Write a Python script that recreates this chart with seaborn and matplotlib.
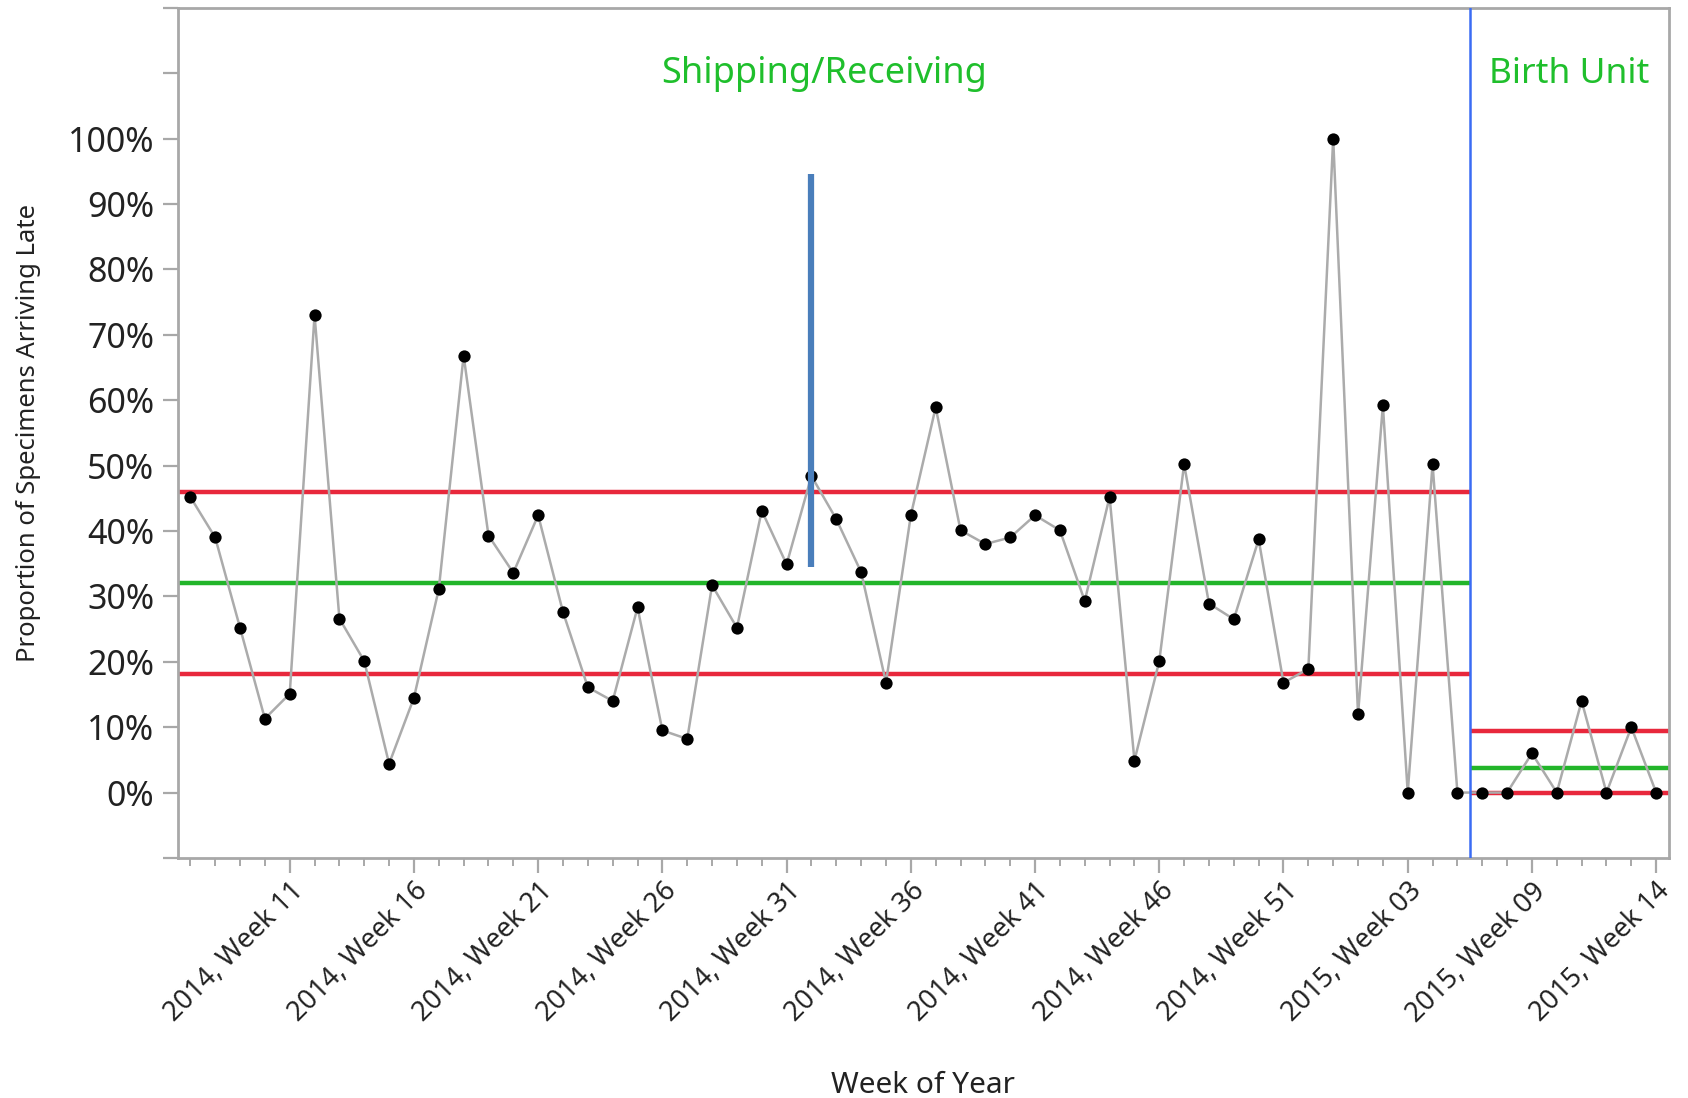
import matplotlib
matplotlib.use("Agg")
import matplotlib.pyplot as plt
import matplotlib.transforms as mtransforms
import seaborn as sns
import pandas as pd
from matplotlib.ticker import FixedLocator, FuncFormatter

# week categories (2015 week 06 has no data)
years = [2014] * 46 + [2015] * 14
weeks = list(range(7, 53)) + [0, 1, 2, 3, 4, 5, 7, 8, 9, 10, 11, 12, 13, 14]

# proportion of specimens arriving late, in percent
pct_late = [
    45.2, 39.0, 25.2, 11.3, 15.1, 73.0, 26.6, 20.1, 4.4, 14.5,
    31.1, 66.8, 39.3, 33.6, 42.4, 27.6, 16.1, 14.0, 28.3, 9.5,
    8.2, 31.7, 25.2, 43.1, 34.9, 48.4, 41.8, 33.7, 16.8, 42.4,
    58.9, 40.1, 38.0, 39.0, 42.4, 40.1, 29.3, 45.2, 4.9, 20.1,
    50.2, 28.9, 26.5, 38.7, 16.8, 18.9, 100.0, 12.0, 59.2, 0.0,
    50.2, 0.0,
    0.0, 0.0, 6.0, 0.0, 14.0, 0.0, 10.0, 0.0,
]
units = ["Shipping/Receiving"] * 52 + ["Birth Unit"] * 8

# control limits per phase
phases = ["Shipping/Receiving", "Birth Unit"]
lcl = [18.1, 0.0]
center = [32.1, 3.8]
ucl = [46.0, 9.4]
phase_fontsize = [26, 25.5]

# annotation bar drawn at one week
marked_week = "2014, Week 32"
marked_range = [34.5, 94.6]

labels = [f"{y}, Week {w:02d}" for y, w in zip(years, weeks)]
df = pd.DataFrame({"week": labels, "pct": pct_late, "unit": units})
df["pos"] = range(len(df))

sns.set_theme(style="white")
plt.rcParams["font.family"] = ["Noto Sans", "DejaVu Sans"]

fig = plt.figure(figsize=(16.88, 10.98), dpi=100)
ax = fig.add_axes([0.1054, 0.2186, 0.8831, 0.7744])

RED = "#e8283c"
GREEN = "#22b52a"

# phase limits
for ph, lo, cl, hi, fs in zip(phases, lcl, center, ucl, phase_fontsize):
    sub = df[df["unit"] == ph]
    x0, x1 = sub["pos"].min() - 0.5, sub["pos"].max() + 0.5
    ax.hlines([lo, hi], x0, x1, color=RED, lw=3.2, zorder=2)
    ax.hlines(cl, x0, x1, color=GREEN, lw=3.2, zorder=2)
    ax.text((x0 + x1) / 2, 109.8, ph, color="#1fbf2c", fontsize=fs,
            ha="center", va="center")

sns.lineplot(data=df, x="pos", y="pct", color="#ababab", lw=1.8, ax=ax, zorder=3)
sns.scatterplot(data=df, x="pos", y="pct", color="black", s=78, linewidth=0,
                ax=ax, zorder=4)

# phase divider and marked bar
split = df.loc[df["unit"] == phases[0], "pos"].max() + 0.5
ax.axvline(split, color="#3a6cf4", lw=1.8, zorder=5)
mpos = df.loc[df["week"] == marked_week, "pos"].iloc[0]
ax.vlines(mpos, marked_range[0], marked_range[1], color="#4a7ebb", lw=4.5, zorder=5)

ax.set_xlim(-0.5, len(df) - 0.5)
ax.set_ylim(-10, 120)

ax.yaxis.set_major_locator(FixedLocator(list(range(-10, 121, 10))))
ax.yaxis.set_major_formatter(FuncFormatter(lambda v, p: f"{v:.0f}%" if 0 <= v <= 100 else ""))
major = list(range(4, len(df), 5))
ax.xaxis.set_major_locator(FixedLocator(major))
ax.xaxis.set_minor_locator(FixedLocator([i for i in range(len(df)) if i not in major]))
ax.set_xticklabels([labels[i] for i in major], rotation=45, ha="right",
                   rotation_mode="anchor", fontsize=19.5)
shift = mtransforms.ScaledTranslation(9 / 100, 0, fig.dpi_scale_trans)
for t in ax.get_xticklabels():
    t.set_transform(t.get_transform() + shift)

ax.tick_params(axis="y", labelsize=24.5, length=11, width=1.6, color="#a8a8a8",
               labelcolor="#222222", left=True, pad=6)
ax.tick_params(axis="x", which="major", length=11, width=1.6, color="#a8a8a8",
               labelcolor="#222222", bottom=True, pad=3)
ax.tick_params(axis="x", which="minor", length=6, width=1.4, color="#a8a8a8",
               bottom=True)

for s in ax.spines.values():
    s.set_color("#a8a8a8")
    s.set_linewidth(2)

ax.set_xlabel("Week of Year", fontsize=21.5, color="#222222")
ax.xaxis.set_label_coords(0.5, -0.25)
ax.set_ylabel("Proportion of Specimens Arriving Late", fontsize=18.5, color="#222222")
ax.yaxis.set_label_coords(-0.092, 0.5)

fig.savefig("out.png", dpi=100)
